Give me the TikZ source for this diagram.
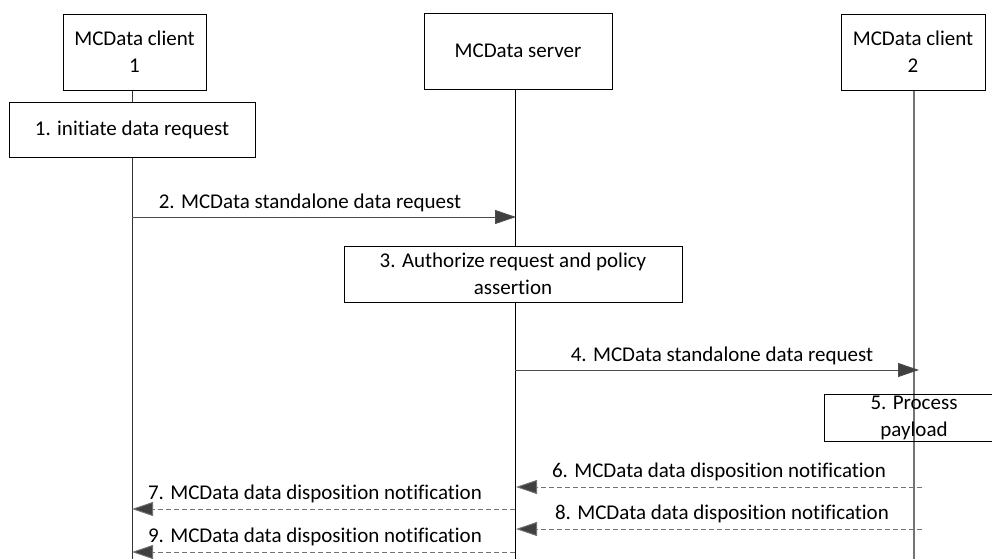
\documentclass[tikz,border=0pt]{standalone}
\usepackage{fontspec}
\setmainfont{Carlito}[Ligatures={NoCommon}]
\usetikzlibrary{arrows.meta}
\begin{document}
\begin{tikzpicture}[x=1pt,y=-1pt,
  every node/.style={font=\fontsize{21}{27}\selectfont},
  entity/.style={draw=black, line width=0.9pt, fill=white, align=center, inner sep=0pt},
  actbox/.style={draw=black, line width=0.9pt, fill=white, align=center, inner sep=0pt},
  life/.style={line width=0.9pt},
  msg/.style={line width=0.9pt, draw=black!70, -{Triangle[length=21pt,width=14pt,fill=black!75]}},
  reply/.style={msg, dash pattern=on 5pt off 3pt, draw=black!55},
  lbl/.style={anchor=base, inner sep=0pt}]
\useasboundingbox (0,0) rectangle (992,559);

% lifeline coordinates
\coordinate (l1top) at (132,89);  \coordinate (l1bot) at (132,559);
\coordinate (l2top) at (515,89);  \coordinate (l2bot) at (515,559);
\coordinate (l3top) at (914,89);  \coordinate (l3bot) at (914,559);

\draw[life, black!80] (l1top) -- (l1bot);
\draw[life, black] (l2top) -- (l2bot);
\draw[life, black!55, line width=1.1pt] (l3top) -- (l3bot);

% entities
\node[entity, minimum width=143pt, minimum height=76pt] (c1) at (134.5,52) {MCData client\\1};
\node[entity, minimum width=188pt, minimum height=76pt] (srv) at (518,51) {MCData server};
\node[entity, minimum width=144pt, minimum height=76pt] (c2) at (913,52) {MCData client\\2};

% step 1
\node[actbox, minimum width=246pt, minimum height=55pt] (s1) at (132,129.5) {1. initiate data request};

% step 2
\coordinate (a2s) at (132,217); \coordinate (a2e) at (516,217);
\draw[msg] (a2s) -- (a2e);
\node[lbl] (t2) at (310,208) {2. MCData standalone data request};

% step 3
\node[actbox, minimum width=338pt, minimum height=56pt] (s3) at (513,274) {3. Authorize request and policy\\assertion};

% step 4
\coordinate (a4s) at (515,370); \coordinate (a4e) at (919,370);
\draw[msg] (a4s) -- (a4e);
\node[lbl] (t4) at (722,361) {4. MCData standalone data request};

% step 5
\coordinate (b5a) at (992,394); \coordinate (b5b) at (824,394);
\coordinate (b5c) at (824,441); \coordinate (b5d) at (992,441);
\draw[line width=0.9pt] (b5a) -- (b5b) -- (b5c) -- (b5d);
\node[align=center, inner sep=0pt] (s5) at (914,418) {5. Process\\payload};

% step 6
\coordinate (a6s) at (922,487); \coordinate (a6e) at (516,487);
\draw[reply] (a6s) -- (a6e);
\node[lbl] (t6) at (719,477) {6. MCData data disposition notification};

% step 7
\coordinate (a7s) at (515,509); \coordinate (a7e) at (132,509);
\draw[reply] (a7s) -- (a7e);
\node[lbl] (t7) at (315,499) {7. MCData data disposition notification};

% step 8
\coordinate (a8s) at (922,529); \coordinate (a8e) at (516,529);
\draw[reply] (a8s) -- (a8e);
\node[lbl] (t8) at (722,519) {8. MCData data disposition notification};

% step 9
\coordinate (a9s) at (515,552); \coordinate (a9e) at (132,552);
\draw[reply] (a9s) -- (a9e);
\node[lbl] (t9) at (315,542) {9. MCData data disposition notification};
\end{tikzpicture}
\end{document}
